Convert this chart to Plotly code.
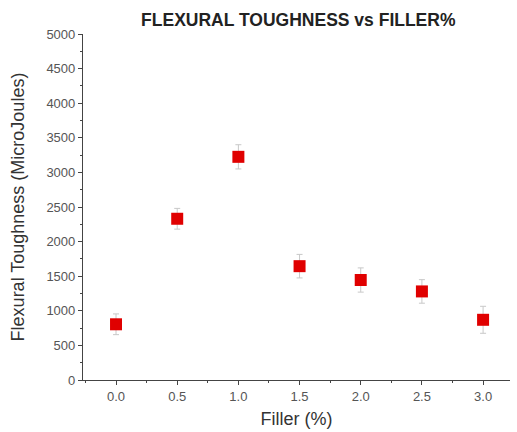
import plotly.graph_objects as go

filler = [0.0, 0.5, 1.0, 1.5, 2.0, 2.5, 3.0]
toughness = [805, 2330, 3225, 1645, 1445, 1280, 870]
error = [150, 150, 175, 170, 175, 170, 195]

fig = go.Figure()
fig.add_trace(go.Scatter(
    x=filler, y=toughness, mode="markers",
    marker=dict(symbol="square", size=12, color="#e00000", line=dict(width=0)),
    error_y=dict(type="data", array=error, visible=True, color="#c8c8c8", thickness=1, width=3),
    showlegend=False,
))

FONT = "Liberation Sans, Arial"
axis_common = dict(
    showline=True, linecolor="#444", linewidth=1.2, showgrid=False, zeroline=False,
    ticks="outside", ticklen=4, tickcolor="#444", tickwidth=1,
    tickfont=dict(family=FONT, size=13, color="#555"),
    automargin=False,
)

fig.update_layout(
    width=517, height=432,
    margin=dict(l=83, r=7, t=34, b=52),
    paper_bgcolor="white", plot_bgcolor="white",
    title=dict(text="<b>FLEXURAL TOUGHNESS vs FILLER%</b>", x=0.577, xanchor="center", y=0.953, yanchor="middle",
               font=dict(family=FONT, size=17.5, color="#222")),
    xaxis=dict(range=[-0.27, 3.22], tickmode="array", tickvals=[0, 0.5, 1, 1.5, 2, 2.5, 3],
               ticktext=["0.0", "0.5", "1.0", "1.5", "2.0", "2.5", "3.0"],
               title=dict(text="Filler (%)", font=dict(family=FONT, size=18, color="#333"), standoff=9),
               minor=dict(ticks="outside", ticklen=2, tickcolor="#444", tickwidth=1, dtick=0.25, tick0=0),
               **axis_common),
    yaxis=dict(range=[0, 5000], tickmode="linear", tick0=0, dtick=500,
               title=dict(text="Flexural Toughness (MicroJoules)", font=dict(family=FONT, size=18, color="#333"), standoff=17),
               minor=dict(ticks="outside", ticklen=2, tickcolor="#444", tickwidth=1, dtick=250, tick0=0),
               **axis_common),
)

fig.write_html("out.html")
